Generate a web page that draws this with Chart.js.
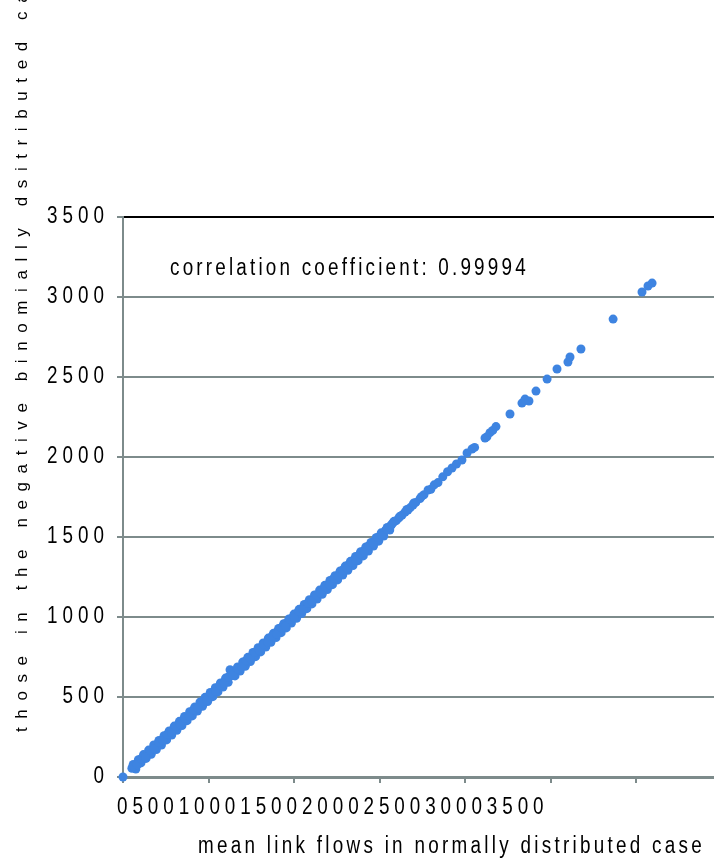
<!DOCTYPE html>
<html>
<head>
<meta charset="utf-8">
<script src="https://cdn.jsdelivr.net/npm/chart.js@4.4.1/dist/chart.umd.min.js"></script>
<style>
  html, body { margin: 0; padding: 0; background: #fff; overflow: hidden; }
  canvas { display: block; }
</style>
</head>
<body>
<canvas id="flowChart" width="714" height="865"></canvas>
<script>
// mean link flows, normally distributed case (x) vs negative binomial case (y)
const normalFlows = [
  0, 52, 68, 85, 98, 112, 126, 140, 152, 165, 178, 190, 204, 218, 232, 246, 260, 274, 288, 300,
  314, 328, 342, 356, 370, 384, 398, 412, 426, 440, 454, 468, 482, 496, 510, 524, 538, 552, 566, 580,
  594, 608, 626, 622, 636, 650, 664, 678, 692, 706, 720, 734, 748, 762, 776, 790, 804, 818, 832, 846,
  860, 874, 888, 902, 916, 930, 944, 958, 972, 986, 1000, 1014, 1028, 1042, 1056, 1070, 1084, 1098, 1112, 1126,
  1140, 1154, 1168, 1182, 1196, 1210, 1224, 1238, 1252, 1266, 1280, 1294, 1308, 1322, 1336, 1350, 1364, 1378, 1392, 1406,
  1420, 1434, 1448, 1462, 1476, 1490, 1504, 1518, 1534, 1548, 1566, 1580, 1598, 1614, 1632, 1650, 1666, 1680, 1696, 1712,
  1737, 1760, 1784, 1800, 1820, 1842, 1870, 1898, 1924, 1950, 1982, 2012, 2041, 2056, 2117, 2128, 2146, 2162, 2181, 2263,
  2333, 2351, 2374, 2415, 2480, 2538, 2602, 2614, 2678, 2866, 3035, 3070, 3094,
  60, 75, 90, 105, 120, 135, 150, 165, 180, 195, 210, 225, 240, 255, 270, 285, 300, 315, 330, 345,
  360, 375, 390, 405, 420, 435, 450, 465, 480, 495, 510, 525, 540, 555, 570, 585, 600, 615, 640, 655,
  670, 685, 700, 715, 730, 745, 760, 775, 790, 805, 820, 835, 850, 865, 880, 895, 910, 925, 940, 955,
  970, 985, 1000, 1015, 1030, 1045, 1060, 1075, 1090, 1105, 1120, 1135, 1150, 1165, 1180, 1195, 1210, 1225, 1240, 1255,
  1270, 1285, 1300, 1315, 1330, 1345, 1360, 1375, 1390, 1405, 1420, 1435, 1450, 1465, 1480, 1495, 1510, 1525, 1545, 1560,
  1585, 1620, 1660, 1700, 1745,
  58, 82, 106, 131, 157, 183, 208, 234, 259, 284, 309, 335, 361, 387, 413, 438, 463, 489, 515, 541,
  566, 592, 617, 643, 669, 694, 719, 745, 771, 797, 822, 848, 873, 899, 925, 950, 976, 1002, 1027, 1053,
  1079, 1104, 1130, 1156, 1181, 1207, 1233, 1258, 1284, 1310, 1335, 1361, 1387, 1412, 1438, 1464, 1489, 1515, 1541, 1572
];
const negBinFlows = [
  0, 55, 62, 80, 96, 108, 130, 134, 150, 160, 184, 186, 206, 212, 236, 240, 262, 270, 292, 296,
  318, 322, 346, 350, 372, 378, 402, 406, 428, 436, 458, 462, 486, 492, 514, 520, 542, 548, 570, 576,
  598, 604, 670, 630, 634, 656, 660, 684, 688, 712, 716, 740, 744, 768, 772, 796, 800, 824, 828, 852,
  856, 880, 884, 908, 912, 936, 940, 964, 968, 992, 998, 1020, 1024, 1048, 1052, 1076, 1080, 1104, 1108, 1132,
  1136, 1160, 1164, 1188, 1192, 1216, 1220, 1244, 1248, 1272, 1276, 1300, 1304, 1328, 1332, 1356, 1360, 1384, 1388, 1412,
  1416, 1440, 1444, 1468, 1472, 1496, 1500, 1522, 1540, 1552, 1570, 1590, 1602, 1620, 1637, 1656, 1668, 1684, 1700, 1716,
  1740, 1764, 1794, 1798, 1826, 1840, 1876, 1908, 1931, 1956, 1981, 2025, 2050, 2060, 2119, 2126, 2152, 2166, 2190, 2269,
  2337, 2362, 2350, 2412, 2487, 2550, 2594, 2625, 2675, 2862, 3031, 3069, 3087,
  78, 50, 108, 88, 140, 116, 168, 142, 200, 172, 228, 200, 258, 232, 288, 262, 318, 292, 348, 322,
  378, 352, 408, 382, 438, 412, 468, 442, 498, 472, 528, 502, 558, 532, 588, 562, 618, 592, 656, 632,
  688, 662, 718, 692, 748, 722, 778, 752, 808, 782, 838, 812, 868, 842, 898, 872, 928, 902, 958, 932,
  988, 962, 1018, 992, 1048, 1022, 1078, 1052, 1108, 1082, 1138, 1112, 1168, 1142, 1198, 1172, 1228, 1202, 1258, 1232,
  1288, 1262, 1318, 1292, 1348, 1322, 1378, 1352, 1408, 1382, 1438, 1412, 1466, 1444, 1496, 1474, 1526, 1506, 1560, 1544,
  1598, 1630, 1672, 1712, 1752,
  66, 76, 114, 125, 165, 177, 216, 228, 267, 278, 317, 329, 369, 381, 421, 432, 471, 483, 523, 535,
  574, 586, 625, 637, 677, 688, 727, 739, 779, 791, 830, 842, 881, 893, 933, 944, 984, 996, 1035, 1047,
  1087, 1098, 1138, 1150, 1189, 1201, 1241, 1252, 1292, 1304, 1343, 1355, 1395, 1406, 1446, 1458, 1497, 1509, 1549, 1580
];

const yTickValues = [0, 500, 1000, 1500, 2000, 2500, 3000, 3500];
const xTickLabels = ['0', '500', '1000', '1500', '2000', '2500', '3000', '3500'];

const corrLabel = 'correlation coefficient: 0.99994';
const xTitle = 'mean link flows in normally distributed case';
const yTitle = 'those in the negative binomially dsitributed case';

const FONT = "'Liberation Sans', Arial, sans-serif";
const GRID = '#7d8b8b';
const DOT = '#3e84e1';

const points = normalFlows.map((x, i) => ({ x: x, y: negBinFlows[i] }));

// the source uses tall, narrow, widely spaced lettering
function drawText(ctx, text, x, y, size, squeeze, spacing, align) {
  ctx.save();
  ctx.translate(x, y);
  ctx.scale(squeeze, 1);
  ctx.font = size + 'px ' + FONT;
  ctx.letterSpacing = spacing + 'px';
  ctx.textAlign = align;
  ctx.fillText(text, 0, 0);
  ctx.restore();
}

const textPlugin = {
  id: 'textPlugin',
  afterDraw(chart) {
    const ctx = chart.ctx;
    const xs = chart.scales.x;
    const ys = chart.scales.y;
    ctx.save();
    ctx.fillStyle = '#000';
    ctx.textBaseline = 'middle';

    // y tick labels
    yTickValues.forEach(v => {
      drawText(ctx, String(v), 109, ys.getPixelForValue(v), 23, 0.82, 6.1, 'right');
    });

    // x tick labels, all run together from the 0 tick
    drawText(ctx, xTickLabels.join(''), xs.getPixelForValue(0) - 6, 808, 23, 0.82, 6.0, 'left');

    ctx.textBaseline = 'alphabetic';
    drawText(ctx, xTitle, 198, 853, 23, 0.82, 4.0, 'left');
    drawText(ctx, corrLabel, 170, 275, 23, 0.82, 3.9, 'left');

    // y title, rotated, running off the top
    ctx.translate(27, 732);
    ctx.rotate(-Math.PI / 2);
    ctx.font = '17px ' + FONT;
    ctx.letterSpacing = '8.6px';
    ctx.textAlign = 'left';
    ctx.fillText(yTitle, 0, 0);
    ctx.restore();
  }
};

new Chart(document.getElementById('flowChart').getContext('2d'), {
  type: 'scatter',
  data: {
    datasets: [{
      data: points,
      backgroundColor: DOT,
      borderWidth: 0,
      pointRadius: 4.5,
      pointHoverRadius: 4.5,
      clip: false
    }]
  },
  options: {
    responsive: false,
    animation: false,
    events: [],
    layout: { autoPadding: false, padding: { top: 217, right: 0, bottom: 0, left: 0 } },
    plugins: {
      legend: { display: false },
      tooltip: { enabled: false }
    },
    scales: {
      x: {
        type: 'linear',
        min: 0,
        max: 3456,
        afterBuildTicks: function(scale) {
          scale.ticks = xTickLabels.map(v => ({ value: Number(v) }));
        },
        afterFit: function(scale) {
          scale.height = 88;
        },
        ticks: { display: false },
        grid: {
          drawOnChartArea: false,
          drawTicks: true,
          tickLength: 6,
          color: GRID,
          lineWidth: 2
        },
        border: { color: GRID, width: 3 }
      },
      y: {
        type: 'linear',
        min: 0,
        max: 3500,
        afterBuildTicks: function(scale) {
          scale.ticks = yTickValues.map(v => ({ value: v }));
        },
        afterFit: function(scale) {
          scale.width = 123;
        },
        ticks: { display: false },
        grid: {
          color: function(c) {
            return c.tick && c.tick.value === 3500 ? '#000' : GRID;
          },
          tickColor: GRID,
          lineWidth: 2,
          drawTicks: true,
          tickLength: 6
        },
        border: { color: GRID, width: 2 }
      }
    }
  },
  plugins: [textPlugin]
});
</script>
</body>
</html>
